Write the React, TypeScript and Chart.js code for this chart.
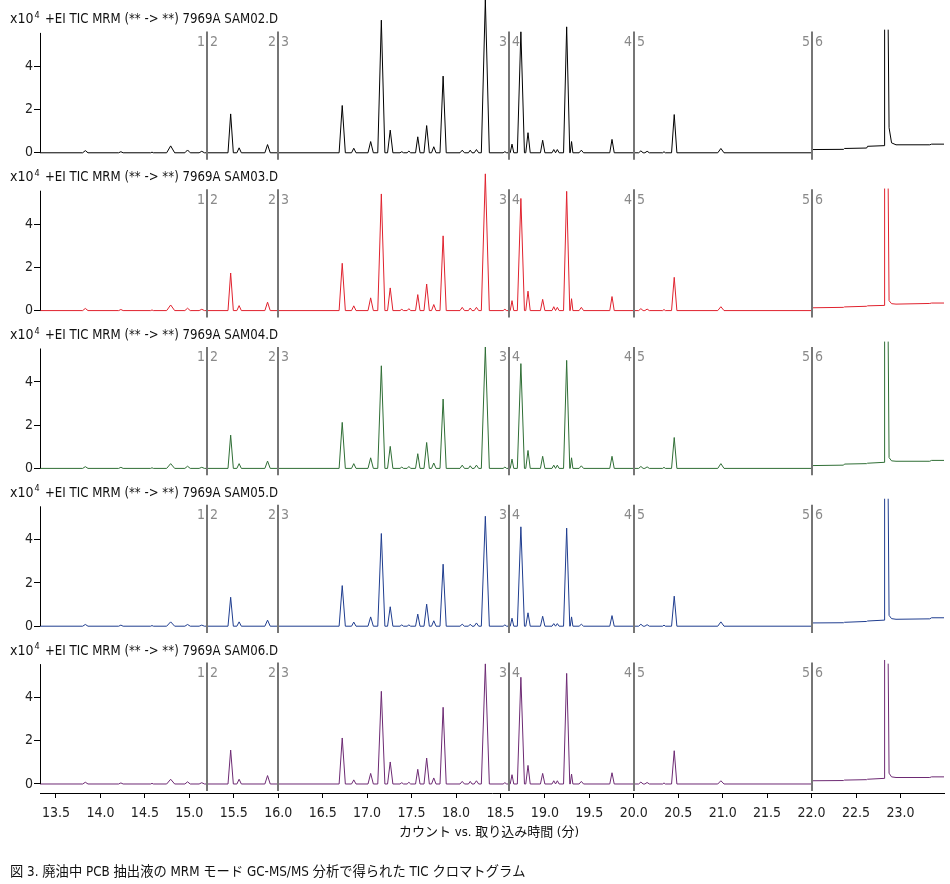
import { useEffect, useRef } from 'react';
import { Chart, registerables } from 'chart.js';

Chart.register(...registerables);

const FONT = '"Liberation Sans Narrow", "DejaVu Sans Condensed", "Noto Sans CJK JP", sans-serif';

// ---- axis / layout values ----
const xMin = 13.32;
const xMax = 23.49;
const xTickStep = 0.5;
const yTickValues = [0, 2, 4];
const yMin = -0.417;
const yMax = 6.888;
const axisTop = 5.55;

// ---- segment boundaries (minutes) ----
const segmentBoundaries = [15.2, 16.0, 18.6, 20.0, 22.0];
const segmentLabels = [['1', '2'], ['2', '3'], ['3', '4'], ['4', '5'], ['5', '6']];

// ---- samples ----
const sampleNames = ['SAM02.D', 'SAM03.D', 'SAM04.D', 'SAM05.D', 'SAM06.D'];
const sampleColors = ['#000000', '#e0222e', '#2f6e35', '#1f3d8f', '#6d2a73'];
const titlePrefix = '+EI TIC MRM (** -> **) 7969A ';
const xAxisTitle = 'カウント vs. 取り込み時間 (分)';
const caption = '図 3. 廃油中 PCB 抽出液の MRM モード GC-MS/MS 分析で得られた TIC クロマトグラム';

// ---- peak table (retention time, min; half base width, min) ----
const peakTimes = [13.83, 14.23, 14.58, 14.79, 14.98, 15.14, 15.465, 15.56, 15.88, 16.72,
  16.85, 17.04, 17.16, 17.26, 17.39, 17.47, 17.57, 17.67, 17.75, 17.855,
  18.07, 18.16, 18.23, 18.33, 18.55, 18.63, 18.73, 18.81, 18.975, 19.10,
  19.14, 19.245, 19.30, 19.41, 19.755, 20.08, 20.15, 20.34, 20.455, 20.98];
const peakHalfWidths = [0.03, 0.025, 0.015, 0.045, 0.03, 0.03, 0.03, 0.025, 0.03, 0.035,
  0.025, 0.03, 0.04, 0.03, 0.02, 0.02, 0.025, 0.03, 0.025, 0.035,
  0.025, 0.02, 0.025, 0.045, 0.02, 0.02, 0.04, 0.025, 0.025, 0.02,
  0.02, 0.035, 0.015, 0.025, 0.025, 0.025, 0.025, 0.015, 0.03, 0.035];

// ---- peak heights (x10^4 counts) ----
const sam02Heights = [0.10, 0.05, 0.03, 0.32, 0.13, 0.07, 1.80, 0.23, 0.38, 2.19,
  0.21, 0.52, 6.14, 1.05, 0.05, 0.08, 0.74, 1.26, 0.28, 3.55,
  0.12, 0.12, 0.15, 7.10, 0.05, 0.40, 5.60, 0.93, 0.58, 0.15,
  0.15, 5.83, 0.52, 0.12, 0.62, 0.09, 0.07, 0.05, 1.77, 0.20];
const sam03Heights = [0.10, 0.05, 0.03, 0.26, 0.11, 0.06, 1.74, 0.23, 0.39, 2.19,
  0.22, 0.59, 5.40, 1.05, 0.06, 0.09, 0.74, 1.23, 0.28, 3.46,
  0.15, 0.12, 0.15, 6.33, 0.06, 0.46, 5.19, 0.90, 0.52, 0.18,
  0.15, 5.52, 0.55, 0.15, 0.65, 0.09, 0.07, 0.05, 1.54, 0.18];
const sam04Heights = [0.08, 0.05, 0.03, 0.22, 0.10, 0.05, 1.54, 0.22, 0.34, 2.13,
  0.22, 0.49, 4.75, 1.02, 0.06, 0.09, 0.68, 1.20, 0.25, 3.21,
  0.15, 0.12, 0.15, 5.62, 0.06, 0.43, 4.85, 0.83, 0.56, 0.15,
  0.15, 5.00, 0.49, 0.12, 0.56, 0.09, 0.07, 0.05, 1.43, 0.22];
const sam05Heights = [0.08, 0.05, 0.03, 0.20, 0.08, 0.05, 1.34, 0.20, 0.28, 1.88,
  0.19, 0.43, 4.29, 0.90, 0.06, 0.06, 0.56, 1.02, 0.25, 2.87,
  0.09, 0.09, 0.15, 5.09, 0.06, 0.37, 4.60, 0.62, 0.46, 0.12,
  0.12, 4.54, 0.43, 0.09, 0.49, 0.09, 0.07, 0.05, 1.39, 0.20];
const sam06Heights = [0.08, 0.05, 0.03, 0.22, 0.10, 0.06, 1.57, 0.22, 0.39, 2.13,
  0.19, 0.49, 4.29, 1.02, 0.06, 0.08, 0.68, 1.20, 0.28, 3.55,
  0.12, 0.12, 0.15, 5.56, 0.06, 0.43, 4.94, 0.86, 0.49, 0.15,
  0.15, 5.12, 0.46, 0.12, 0.52, 0.09, 0.07, 0.05, 1.54, 0.15];

// ---- segment 6 trace (raised baseline + saturated peak) ----
const lateTimes = [22.0, 22.36, 22.37, 22.62, 22.63, 22.815, 22.822, 22.84, 22.862, 22.872, 22.9, 22.95, 23.33, 23.35, 23.49];
const sam02Late = [0.15, 0.16, 0.20, 0.22, 0.30, 0.33, 5.70, null, 5.70, 1.16, 0.46, 0.37, 0.37, 0.40, 0.40];
const sam03Late = [0.13, 0.15, 0.17, 0.20, 0.22, 0.24, 5.65, null, 5.65, 0.46, 0.32, 0.30, 0.33, 0.35, 0.35];
const sam04Late = [0.13, 0.15, 0.20, 0.22, 0.24, 0.28, 5.87, null, 5.87, 0.50, 0.35, 0.33, 0.33, 0.37, 0.37];
const sam05Late = [0.15, 0.16, 0.18, 0.22, 0.24, 0.28, 5.90, null, 5.90, 0.50, 0.35, 0.32, 0.34, 0.39, 0.39];
const sam06Late = [0.15, 0.16, 0.18, 0.20, 0.22, 0.26, 5.74, null, 5.57, 0.50, 0.33, 0.30, 0.30, 0.33, 0.33];

const allHeights = [sam02Heights, sam03Heights, sam04Heights, sam05Heights, sam06Heights];
const allLate = [sam02Late, sam03Late, sam04Late, sam05Late, sam06Late];

function buildTrace(heights: number[], late: (number | null)[]) {
  const pts: { x: number; y: number | null }[] = [{ x: xMin, y: 0 }];
  peakTimes.forEach((t, i) => {
    const w = peakHalfWidths[i];
    pts.push({ x: t - w, y: 0 }, { x: t, y: heights[i] }, { x: t + w, y: 0 });
  });
  pts.push({ x: lateTimes[0], y: 0 });
  lateTimes.forEach((t, i) => pts.push({ x: t, y: late[i] }));
  return pts;
}

const overlayPlugin = {
  id: 'overlay',
  afterDatasetsDraw(chart: any) {
    const ctx = chart.ctx as CanvasRenderingContext2D;
    const xs = chart.scales.x;
    const area = chart.chartArea;
    ctx.save();
    sampleNames.forEach((name, i) => {
      const ys = chart.scales['y' + i];
      const ax = Math.round(area.left) + 0.5;
      ctx.strokeStyle = '#000';
      ctx.lineWidth = 1;
      ctx.beginPath();
      ctx.moveTo(ax, ys.getPixelForValue(axisTop));
      ctx.lineTo(ax, ys.getPixelForValue(0));
      ctx.stroke();

      ctx.font = `14px ${FONT}`;
      ctx.textBaseline = 'middle';
      segmentBoundaries.forEach((b, k) => {
        const px = Math.round(xs.getPixelForValue(b));
        ctx.strokeStyle = '#767676';
        ctx.lineWidth = 2;
        ctx.beginPath();
        ctx.moveTo(px, ys.getPixelForValue(5.62));
        ctx.lineTo(px, ys.getPixelForValue(-0.32));
        ctx.stroke();
        ctx.fillStyle = '#8a8a8a';
        const ty = ys.getPixelForValue(5.12);
        ctx.textAlign = 'right';
        ctx.fillText(segmentLabels[k][0], px - 2, ty);
        ctx.textAlign = 'left';
        ctx.fillText(segmentLabels[k][1], px + 3, ty);
      });

      const ty = ys.getPixelForValue(6.16);
      ctx.fillStyle = '#111';
      ctx.textAlign = 'left';
      ctx.font = `14px ${FONT}`;
      ctx.fillText('x10', 10, ty);
      const w10 = ctx.measureText('x10').width;
      ctx.font = `9px ${FONT}`;
      ctx.fillText('4', 10 + w10 + 1, ty - 4);
      ctx.font = `14px ${FONT}`;
      ctx.save();
      ctx.translate(45, ty);
      ctx.scale(0.935, 1);
      ctx.fillText(titlePrefix + name, 0, 0);
      ctx.restore();
    });

    ctx.fillStyle = '#111';
    ctx.textAlign = 'center';
    ctx.textBaseline = 'middle';
    ctx.font = `13px ${FONT}`;
    ctx.fillText(xAxisTitle, (area.left + area.right) / 2 - 3, xs.top + 40);
    ctx.textAlign = 'left';
    ctx.font = `13.3px ${FONT}`;
    ctx.fillText(caption, 10, xs.top + 80);
    ctx.restore();
  },
};

export default function App() {
  const ref = useRef<HTMLCanvasElement | null>(null);

  useEffect(() => {
    if (!ref.current) return;
    const yScales: any = {};
    // defined bottom-first: later definitions are stacked above
    for (let i = sampleNames.length - 1; i >= 0; i--) {
      yScales['y' + i] = {
        type: 'linear',
        position: 'left',
        stack: 'panels',
        stackWeight: 1,
        min: yMin,
        max: yMax,
        afterBuildTicks: (axis: any) => {
          axis.ticks = yTickValues.map((v) => ({ value: v }));
        },
        afterFit: (scale: any) => {
          scale.width = 40;
          scale.paddingTop = 0;
          scale.paddingBottom = 0;
        },
        border: { display: false },
        grid: { display: true, drawOnChartArea: false, drawTicks: true, tickLength: 6, color: '#000' },
        ticks: { padding: 1, color: '#222', font: { family: FONT, size: 14 } },
      };
    }

    const datasets = sampleNames.map((name, i) => ({
      label: name,
      data: buildTrace(allHeights[i], allLate[i]),
      yAxisID: 'y' + i,
      borderColor: sampleColors[i],
      borderWidth: 1,
      pointRadius: 0,
      tension: 0,
      spanGaps: false,
      clip: false as any,
    }));

    const chart = new Chart(ref.current, {
      type: 'line',
      data: { datasets },
      options: {
        animation: false,
        responsive: false,
        parsing: false as any,
        normalized: true,
        layout: { padding: { top: 4, right: 6, left: 0, bottom: 0 } },
        plugins: { legend: { display: false }, tooltip: { enabled: false } },
        scales: {
          x: {
            type: 'linear',
            position: 'bottom',
            min: xMin,
            max: xMax,
            afterFit: (scale: any) => {
              scale.height = 91;
              scale.paddingLeft = 0;
              scale.paddingRight = 0;
            },
            border: { display: true, color: '#000', width: 1 },
            grid: { display: true, drawOnChartArea: false, drawTicks: true, tickLength: 5, color: '#000' },
            ticks: {
              stepSize: xTickStep,
              includeBounds: false,
              autoSkip: false,
              maxRotation: 0,
              padding: 7,
              color: '#222',
              font: { family: FONT, size: 14 },
              callback: (v: any) => Number(v).toFixed(1),
            },
          },
          ...yScales,
        },
      },
      plugins: [overlayPlugin],
    });
    return () => chart.destroy();
  }, []);

  return (
    <div style={{ position: 'absolute', left: 0, top: 0, width: 950, height: 884, background: '#fff' }}>
      <canvas ref={ref} width={950} height={884} style={{ display: 'block' }} />
    </div>
  );
}
